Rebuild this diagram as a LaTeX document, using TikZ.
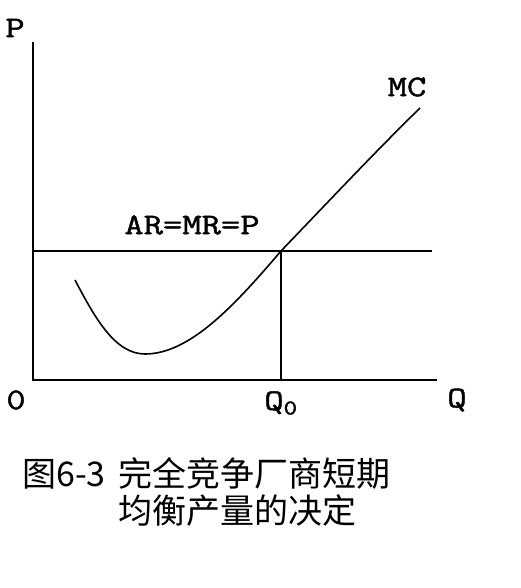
\documentclass[tikz,border=0pt]{standalone}
\usepackage{fontspec}
\newfontfamily\labfont[FakeStretch=1.25,FakeBold=1.5]{Latin Modern Mono}
\newfontfamily\cjk{Noto Sans CJK SC}
\usetikzlibrary{positioning,calc}

\begin{document}
\begin{tikzpicture}[x=1pt,y=-1pt,
  ax/.style={line width=2pt},
  lab/.style={font=\labfont\fontsize{30}{30}\selectfont,inner sep=0pt},
  captxt/.style={font=\cjk\fontsize{34}{37}\selectfont,inner sep=0pt}]
\useasboundingbox (0,0) rectangle (520,588);
\coordinate (o) at (33,380);
\coordinate (ytop) at (33,42);
\coordinate (xend) at (437,380);
\coordinate (e) at (281,251);
\coordinate (pend) at (432,251);
\coordinate (mcs) at (75,280);
\coordinate (mcmin) at (145,354);
\coordinate (mce) at (420,108);
\draw[ax] (ytop) -- (o) -- (xend);
\draw[ax] (o |- e) -- (pend);
\draw[ax] (e) -- (e |- o);
\draw[line width=1.6pt] (mcs) .. controls (95,318) and (115,354) .. (mcmin)
  .. controls (190,354) and (235,305) .. (e)
  .. controls (330,200) and (375,152) .. (mce);
\node[lab] (p) at (15,28) {P};
\node[lab] (mc) at (407,87) {MC};
\node[lab] (armr) at (192,225) {AR=MR=P};
\node[lab] (zero) at (16,400) {0};
\node[lab] (q0) at (281,403) {Q\textsubscript{0}};
\node[lab] (q) at (457,400) {Q};
\node[captxt,anchor=base west] (fig) at (22,486) {图6-3};
\node[captxt,anchor=base west] (t1) at (118,486) {完全竞争厂商短期};
\node[captxt,anchor=base west] (t2) at ($(t1.base west)+(0,37)$) {均衡产量的决定};
\end{tikzpicture}
\end{document}
